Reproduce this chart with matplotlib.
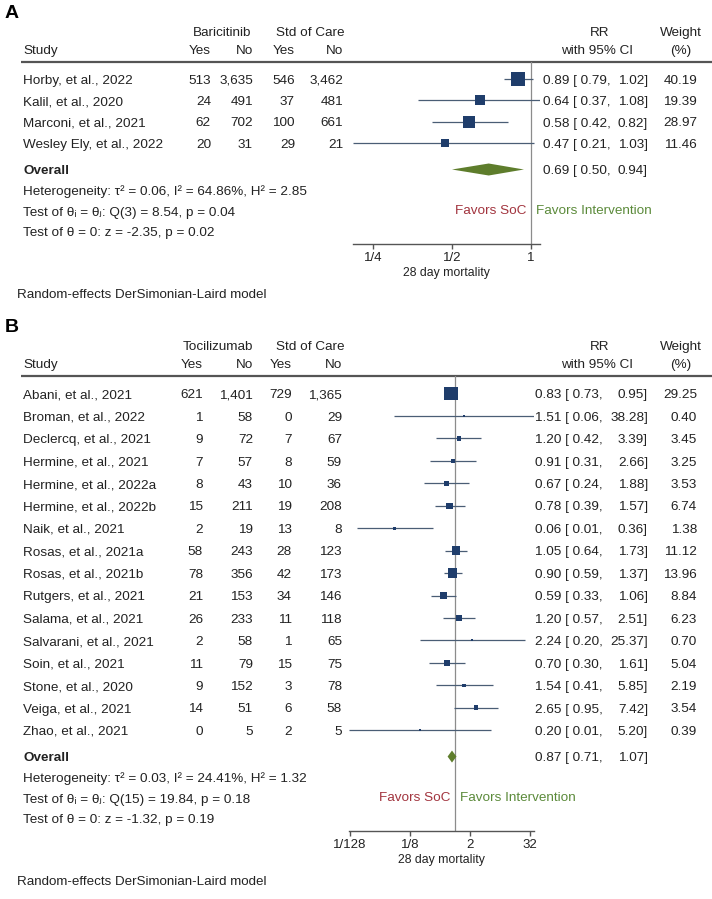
import numpy as np
import matplotlib
matplotlib.use("Agg")
import matplotlib.pyplot as plt

plt.rcParams['font.family'] = ['Liberation Sans', 'DejaVu Sans']

# ---------------- Panel A data ----------------
a_studies = ["Horby, et al., 2022", "Kalil, et al., 2020", "Marconi, et al., 2021",
             "Wesley Ely, et al., 2022"]
a_trt_yes = [513, 24, 62, 20]
a_trt_no = [3635, 491, 702, 31]
a_soc_yes = [546, 37, 100, 29]
a_soc_no = [3462, 481, 661, 21]
a_rr = [0.89, 0.64, 0.58, 0.47]
a_lo = [0.79, 0.37, 0.42, 0.21]
a_hi = [1.02, 1.08, 0.82, 1.03]
a_weight = [40.19, 19.39, 28.97, 11.46]
a_overall = [0.69, 0.50, 0.94]
a_stats = ["Heterogeneity: \u03c4\u00b2 = 0.06, I\u00b2 = 64.86%, H\u00b2 = 2.85",
           "Test of \u03b8\u1d62 = \u03b8\u2c7c: Q(3) = 8.54, p = 0.04",
           "Test of \u03b8 = 0: z = -2.35, p = 0.02"]
a_ticks = [0.25, 0.5, 1]
a_ticklabels = ["1/4", "1/2", "1"]

# ---------------- Panel B data ----------------
b_studies = ["Abani, et al., 2021", "Broman, et al., 2022", "Declercq, et al., 2021",
             "Hermine, et al., 2021", "Hermine, et al., 2022a", "Hermine, et al., 2022b",
             "Naik, et al., 2021", "Rosas, et al., 2021a", "Rosas, et al., 2021b",
             "Rutgers, et al., 2021", "Salama, et al., 2021", "Salvarani, et al., 2021",
             "Soin, et al., 2021", "Stone, et al., 2020", "Veiga, et al., 2021",
             "Zhao, et al., 2021"]
b_trt_yes = [621, 1, 9, 7, 8, 15, 2, 58, 78, 21, 26, 2, 11, 9, 14, 0]
b_trt_no = [1401, 58, 72, 57, 43, 211, 19, 243, 356, 153, 233, 58, 79, 152, 51, 5]
b_soc_yes = [729, 0, 7, 8, 10, 19, 13, 28, 42, 34, 11, 1, 15, 3, 6, 2]
b_soc_no = [1365, 29, 67, 59, 36, 208, 8, 123, 173, 146, 118, 65, 75, 78, 58, 5]
b_rr = [0.83, 1.51, 1.20, 0.91, 0.67, 0.78, 0.06, 1.05, 0.90, 0.59, 1.20, 2.24, 0.70, 1.54, 2.65, 0.20]
b_lo = [0.73, 0.06, 0.42, 0.31, 0.24, 0.39, 0.011, 0.64, 0.59, 0.33, 0.57, 0.20, 0.30, 0.41, 0.95, 0.0076]
b_hi = [0.95, 38.28, 3.39, 2.66, 1.88, 1.57, 0.36, 1.73, 1.37, 1.06, 2.51, 25.37, 1.61, 5.85, 7.42, 5.20]
b_weight = [29.25, 0.40, 3.45, 3.25, 3.53, 6.74, 1.38, 11.12, 13.96, 8.84, 6.23, 0.70, 5.04, 2.19, 3.54, 0.39]
b_overall = [0.87, 0.71, 1.07]
b_stats = ["Heterogeneity: \u03c4\u00b2 = 0.03, I\u00b2 = 24.41%, H\u00b2 = 1.32",
           "Test of \u03b8\u1d62 = \u03b8\u2c7c: Q(15) = 19.84, p = 0.18",
           "Test of \u03b8 = 0: z = -1.32, p = 0.19"]
b_ticks = [2 ** -7, 2 ** -3, 2, 32]
b_ticklabels = ["1/128", "1/8", "2", "32"]

# ---------------- figure ----------------
W, H, DPI = 712, 899, 100
fig = plt.figure(figsize=(W / DPI, H / DPI), dpi=DPI)
bg = fig.add_axes([0, 0, 1, 1])
bg.set_xlim(0, W)
bg.set_ylim(H, 0)
bg.axis('off')

TXT = '#222222'
FS = 9.7
SQ = '#1f3d6b'
CI = '#4a5d75'
DIA = '#5e7d2c'
REF = '#8c8c8c'
RULE = '#555555'
RED = '#a2343e'
GRN = '#5b8a3a'


def t(x, y, s, ha='left', **kw):
    kw.setdefault('fontsize', FS)
    kw.setdefault('color', TXT)
    bg.text(x, y + 4.7, s, ha=ha, va='baseline', **kw)


def panel(letter, top, trt_name, studies, ty, tn, sy, sn, rr, lo, hi, wt, overall, stats,
          ticks, ticklabels, cols, row0, dy, x_one, k, sq_k, rr_left):
    y_hdr1 = top + 14
    y_hdr2 = top + 32.5
    y_rule = top + 44.5
    rows = [row0 + i * dy for i in range(len(studies))]
    y_over = rows[-1] + 26.3
    y_stats = [y_over + 20.7, y_over + 41.5, y_over + 62]
    y_axis = y_over + 74.5
    bg.text(5, top + 1, letter, fontsize=14, fontweight='bold', color='black',
            ha='left', va='baseline')
    # headers
    c_ty, c_tn, c_sy, c_sn, c_t, c_s = cols
    t(c_t, y_hdr1, trt_name, ha='center')
    t(c_s, y_hdr1, "Std of Care", ha='center')
    t(600, y_hdr1, "RR", ha='center')
    t(681, y_hdr1, "Weight", ha='center')
    t(23, y_hdr2, "Study")
    t(c_ty, y_hdr2, "Yes", ha='right')
    t(c_tn, y_hdr2, "No", ha='right')
    t(c_sy, y_hdr2, "Yes", ha='right')
    t(c_sn, y_hdr2, "No", ha='right')
    t(597, y_hdr2, "with 95% CI", ha='center')
    t(681, y_hdr2, "(%)", ha='center')
    bg.plot([21, W], [y_rule, y_rule], color=RULE, lw=1.6, solid_capstyle='butt')
    for i, name in enumerate(studies):
        y = rows[i]
        t(23, y, name)
        t(c_ty, y, f"{ty[i]:,}", ha='right')
        t(c_tn, y, f"{tn[i]:,}", ha='right')
        t(c_sy, y, f"{sy[i]:,}", ha='right')
        t(c_sn, y, f"{sn[i]:,}", ha='right')
        t(rr_left, y, f"{rr[i]:.2f} [ {lo[i]:.2f},")
        t(648, y, f"{hi[i]:.2f}]", ha='right')
        t(697, y, f"{wt[i]:.2f}", ha='right')
    t(23, y_over, "Overall", fontweight='bold')
    t(rr_left, y_over, f"{overall[0]:.2f} [ {overall[1]:.2f},")
    t(648, y_over, f"{overall[2]:.2f}]", ha='right')
    for s, y in zip(stats, y_stats):
        t(23, y, s)

    # plot axes
    xmin, xmax = min(lo), max(hi)
    left = x_one + k * np.log2(xmin)
    right = x_one + k * np.log2(xmax)
    ax = fig.add_axes([left / W, 1 - y_axis / H, (right - left) / W, (y_axis - y_rule) / H])
    ax.set_xscale('log', base=2)
    ax.set_xlim(xmin, xmax)
    ax.set_ylim(y_axis, y_rule)
    ax.patch.set_alpha(0)
    for sp in ['top', 'left', 'right']:
        ax.spines[sp].set_visible(False)
    ax.spines['bottom'].set_color(RULE)
    ax.spines['bottom'].set_linewidth(1.0)
    ax.set_yticks([])
    ax.set_xticks(ticks)
    ax.set_xticklabels(ticklabels, fontsize=9.5, color=TXT)
    ax.xaxis.set_minor_locator(matplotlib.ticker.NullLocator())
    ax.tick_params(axis='x', direction='out', length=3.5, width=1.0, color=RULE, pad=2.5)
    ax.axvline(1, color=REF, lw=0.9, zorder=1)
    ax.hlines(rows, lo, hi, color=CI, lw=0.9, zorder=2)
    sizes = [(sq_k * np.sqrt(w) * 72 / DPI) ** 2 for w in wt]
    ax.scatter(rr, rows, s=sizes, marker='s', color=SQ, linewidths=0, zorder=3)
    h = 6
    ax.fill([overall[1], overall[0], overall[2], overall[0]],
            [y_over, y_over - h, y_over, y_over + h], color=DIA, lw=0, zorder=3)
    # favors
    y_fav = y_stats[1] - 2
    t(x_one - 5, y_fav, "Favors SoC", ha='right', color=RED)
    t(x_one + 5, y_fav, "Favors Intervention", color=GRN)
    t((left + right) / 2, y_axis + 27, "28 day mortality", ha='center', fontsize=8.8)
    t(17, y_axis + 49, "Random-effects DerSimonian-Laird model", fontsize=9.6)
    return ax


panel("A", 17, "Baricitinib", a_studies, a_trt_yes, a_trt_no, a_soc_yes, a_soc_no,
      a_rr, a_lo, a_hi, a_weight, a_overall, a_stats, a_ticks, a_ticklabels,
      (211, 253, 295, 343, 222, 310), 79, 21.4, 531, 79, 2.25, 543)

panel("B", 331, "Tocilizumab", b_studies, b_trt_yes, b_trt_no, b_soc_yes, b_soc_no,
      b_rr, b_lo, b_hi, b_weight, b_overall, b_stats, b_ticks, b_ticklabels,
      (203, 253, 292, 342, 218, 310), 393.5, 22.45, 455, 15, 2.5, 535)

fig.savefig("out.png", dpi=DPI, facecolor='white')
